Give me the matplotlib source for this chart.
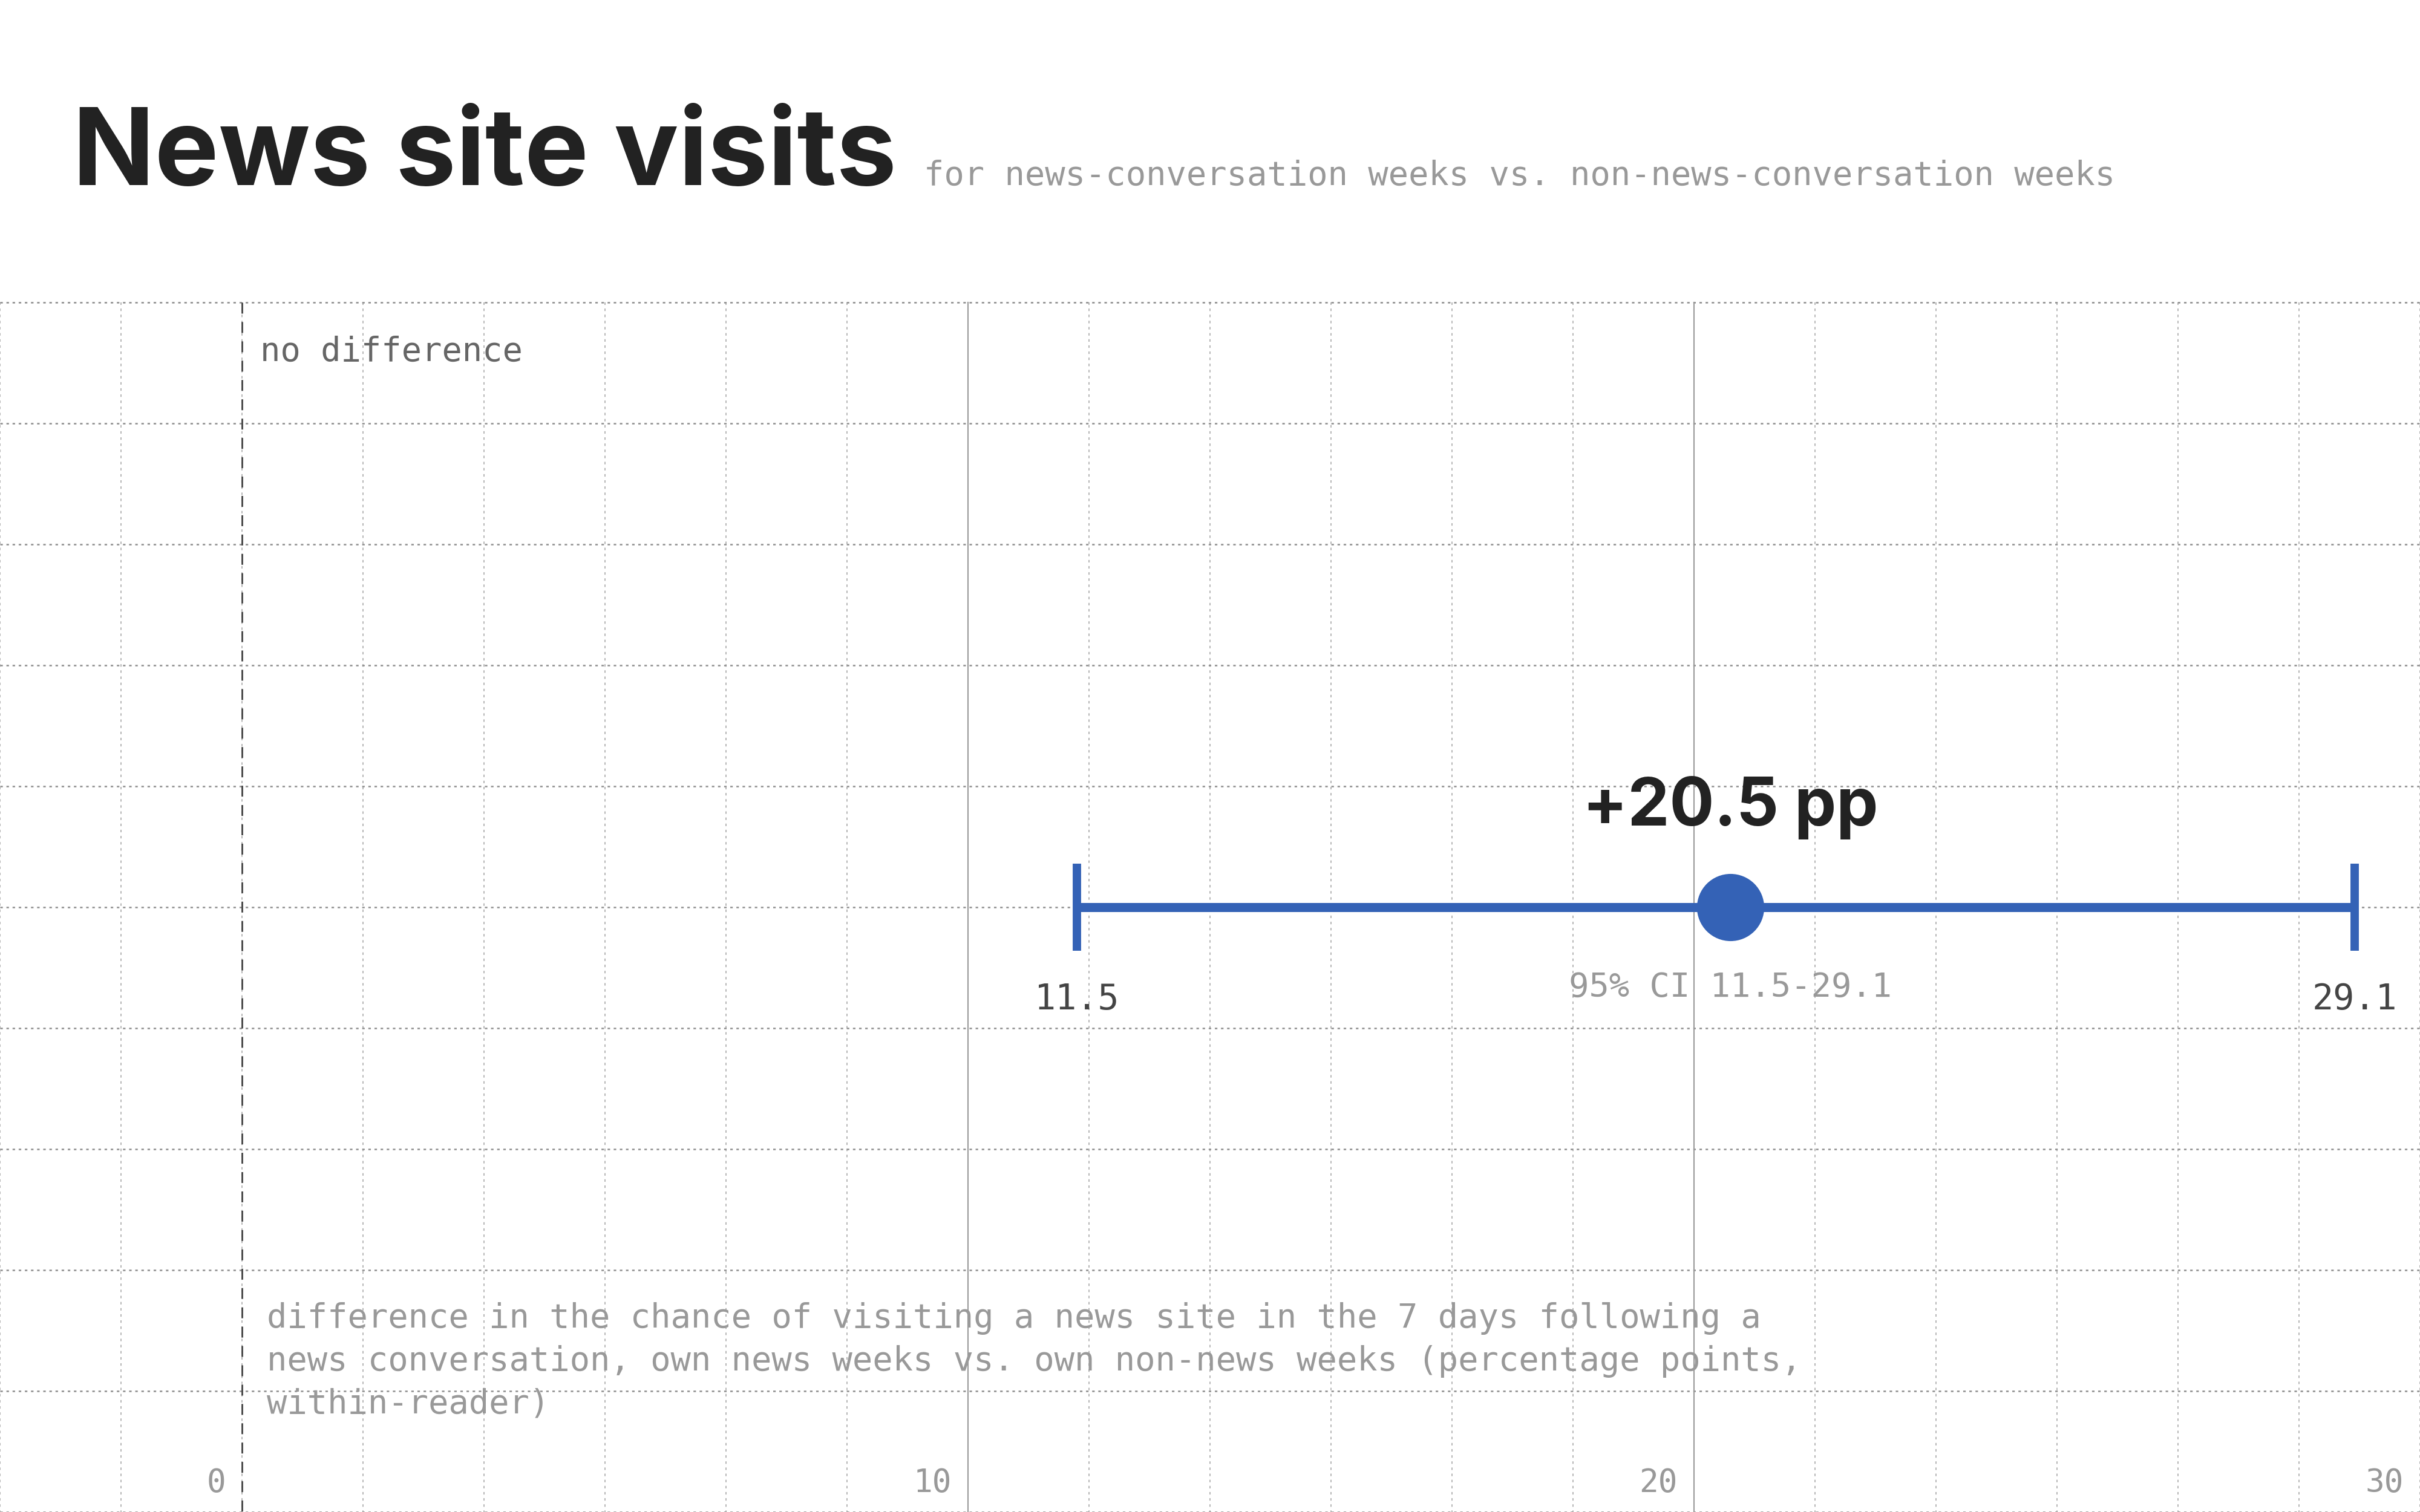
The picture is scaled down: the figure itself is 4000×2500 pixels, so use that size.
import matplotlib
matplotlib.use("Agg")
import matplotlib.pyplot as plt
import matplotlib.transforms as mtransforms
import numpy as np

# ---- chart values ----
estimate = 20.5
ci_low = 11.5
ci_high = 29.1
x_ticks = [0, 10, 20, 30]

title = "News site visits"
subtitle = "for news-conversation weeks vs. non-news-conversation weeks"
zero_label = "no difference"
axis_note = ("difference in the chance of visiting a news site in the 7 days following a\n"
             "news conversation, own news weeks vs. own non-news weeks (percentage points,\n"
             "within-reader)")

BLUE = "#3462b6"
INK = "#222222"
GREY = "#999999"
MONO = "DejaVu Sans Mono"
SANS = "Inter"

plt.rcParams["lines.scale_dashes"] = False

fig = plt.figure(figsize=(40, 25), dpi=100)
fig.patch.set_facecolor("white")

# background "paper" grid, in pixel coords
bg = fig.add_axes([0, 0, 1, 1])
bg.set_xlim(0, 4000)
bg.set_ylim(2500, 0)
bg.axis("off")
for gx in np.arange(0, 4001, 200):
    bg.plot([gx, gx], [500, 2500], color="#a8a8a8", lw=1.2, ls=(0, (3, 4.3)))
for gy in np.arange(500, 2501, 200):
    bg.plot([0, 4000], [gy, gy], color="#8f8f8f", lw=1.8, ls=(0, (3, 4.3)))

# header
bg.text(120, 306, title, fontsize=128, fontweight="bold", family=SANS,
        color=INK, ha="left", va="baseline")
bg.text(1527, 306, subtitle, fontsize=40, family=MONO, color=GREY,
        ha="left", va="baseline")

# data axes: x in percentage points, y in pixels from top
ax = fig.add_axes([0, 0, 1, 1])
ax.patch.set_alpha(0)
ax.set_xlim(-10 / 3, 30)
ax.set_ylim(2500, 0)
ax.axis("off")

for t in x_ticks[1:-1]:
    ax.plot([t, t], [500, 2500], color="#9a9a9a", lw=1.5)
ax.plot([0, 0], [500, 2500], color="#444444", lw=2.0, ls=(0, (13, 10)))

row = 1500
ax.errorbar([estimate], [row], xerr=[[estimate - ci_low], [ci_high - estimate]],
            fmt="o", ms=80, color=BLUE, mec="none", elinewidth=10.8,
            capsize=52, capthick=10, zorder=5)

ax.text(estimate, 1365, f"+{estimate} pp", fontsize=79, fontweight="bold",
        family=SANS, color=INK, ha="center", va="baseline")
ax.text(estimate, 1648, f"95% CI {ci_low}-{ci_high}", fontsize=40, family=MONO,
        color=GREY, ha="center", va="baseline")
for v in (ci_low, ci_high):
    ax.text(v, 1669, f"{v}", fontsize=42, family=MONO, color="#444444",
            ha="center", va="baseline")

right_of = mtransforms.offset_copy(ax.transData, fig=fig, x=30, y=0, units="dots")
ax.text(0, 597, zero_label, fontsize=40, family=MONO, color="#666666",
        ha="left", va="baseline", transform=right_of)

left_of = mtransforms.offset_copy(ax.transData, fig=fig, x=-27, y=0, units="dots")
for t in x_ticks:
    ax.text(t, 2467, str(t), fontsize=38, family=MONO, color=GREY,
            ha="right", va="baseline", transform=left_of)

# note under the row; multi-line baseline sits on the last line
bg.text(441, 2337, axis_note, fontsize=40, family=MONO, color=GREY,
        ha="left", va="baseline", linespacing=1.41)

fig.savefig("out.png", dpi=100, facecolor="white")
